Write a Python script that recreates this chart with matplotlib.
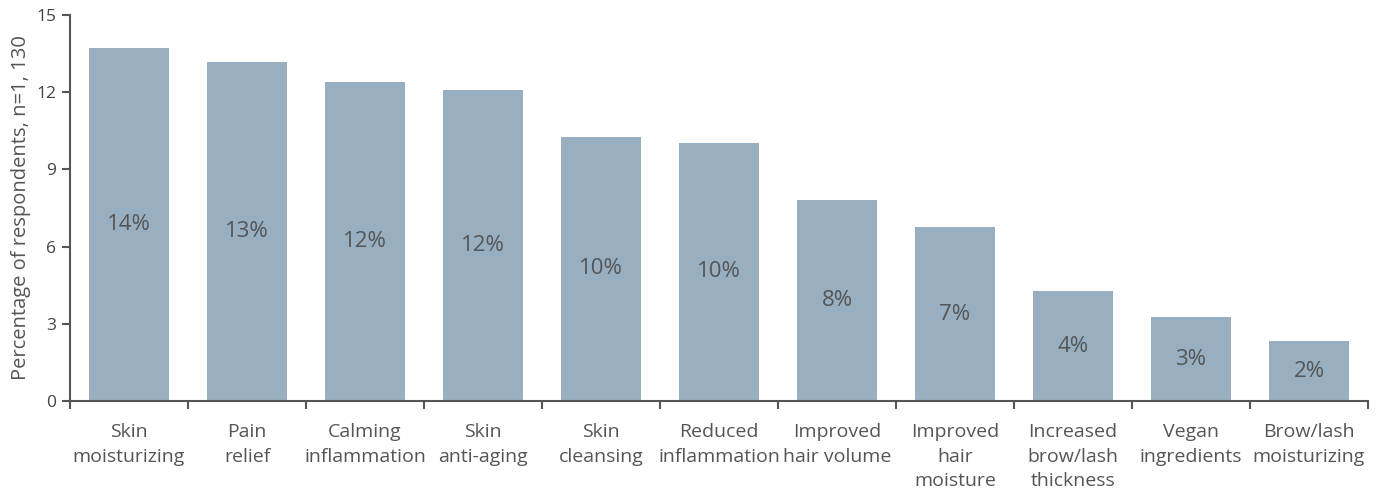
import matplotlib.pyplot as plt
import numpy as np

categorias = ['Skin\nmoisturizing', 'Pain\nrelief', 'Calming\ninflammation', 'Skin\nanti-aging',
              'Skin\ncleansing', 'Reduced\ninflammation', 'Improved\nhair volume',
              'Improved\nhair\nmoisture', 'Increased\nbrow/lash\nthickness', 'Vegan\ningredients',
              'Brow/lash\nmoisturizing']
valores = [13.72, 13.17, 12.40, 12.09, 10.26, 10.03, 7.81, 6.76, 4.27, 3.26, 2.33]
yticks = [0, 3, 6, 9, 12, 15]

plt.rcParams.update({'font.family': ['Open Sans', 'DejaVu Sans']})

fig = plt.figure(figsize=(13.77, 4.93), dpi=100)
ax = fig.add_axes([70/1377, 1 - 401/493, 1298/1377, 386/493])

x = np.arange(len(categorias))
bars = ax.bar(x, valores, width=0.67, color='#97afc0', zorder=2)

# Etiquetas dentro de las barras
for bar, v in zip(bars, valores):
    ax.text(bar.get_x() + bar.get_width() / 2, v / 2, f'{round(v)}%',
            ha='center', va='center', fontsize=16, color='#555555')

ax.set_xlim(-0.5, len(categorias) - 0.5)
ax.set_ylim(0, 15)
ax.set_yticks(yticks)
ax.set_yticklabels([str(t) for t in yticks], fontsize=12.5, color='#444444')

# Ticks del eje x en los limites de categoria
ax.set_xticks(np.arange(len(categorias) + 1) - 0.5)
ax.set_xticklabels([])
ax.set_xticks(x, minor=True)
ax.set_xticklabels(categorias, minor=True, fontsize=14, color='#555555', linespacing=1.45)
ax.tick_params(axis='x', which='minor', length=0, pad=16)
ax.tick_params(axis='x', which='major', length=6, width=1.5, color='#555555')
ax.tick_params(axis='y', length=6, width=1.5, color='#555555', pad=4)

for s in ['top', 'right']:
    ax.spines[s].set_visible(False)
for s in ['left', 'bottom']:
    ax.spines[s].set_color('#555555')
    ax.spines[s].set_linewidth(1.5)

ax.set_ylabel('Percentage of respondents, n=1, 130', fontsize=14.5, color='#555555', labelpad=4)

plt.savefig('out.png', dpi=100)
